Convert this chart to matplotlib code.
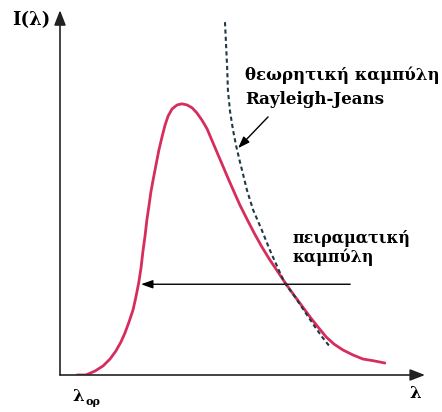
import matplotlib
matplotlib.use('Agg')
import matplotlib.pyplot as plt

# experimental curve (arbitrary units)
exp_lam = [0.47, 0.71, 0.96, 1.18, 1.37, 1.53, 1.67, 1.78, 1.89, 2.00, 2.08, 2.16, 2.22,
           2.27, 2.33, 2.38, 2.44, 2.49, 2.55, 2.63, 2.71, 2.80, 2.88, 2.96, 3.07, 3.21,
           3.34, 3.48, 3.62, 3.75, 3.89, 4.03, 4.16, 4.30, 4.44, 4.60, 4.77, 4.93, 5.12,
           5.32, 5.53, 5.75, 5.97, 6.19, 6.41, 6.63, 6.85, 7.07, 7.29, 7.51, 7.75, 8.03,
           8.30, 8.60, 8.90]
exp_I = [0.00, 0.00, 0.11, 0.25, 0.44, 0.66, 0.91, 1.16, 1.46, 1.79, 2.15, 2.56, 2.95,
         3.39, 3.83, 4.27, 4.68, 5.04, 5.37, 5.79, 6.20, 6.58, 6.89, 7.13, 7.33, 7.44,
         7.47, 7.44, 7.36, 7.22, 7.02, 6.78, 6.47, 6.14, 5.81, 5.43, 5.04, 4.68, 4.30,
         3.91, 3.53, 3.17, 2.84, 2.51, 2.20, 1.90, 1.60, 1.32, 1.05, 0.85, 0.69, 0.55,
         0.44, 0.39, 0.33]

# Rayleigh-Jeans curve
rj_lam = [4.52, 4.55, 4.58, 4.60, 4.66, 4.74, 4.82, 4.93, 5.04, 5.12, 5.29, 5.53, 5.75,
          6.03, 6.16, 6.44, 6.71, 6.99, 7.18, 7.40]
rj_I = [9.72, 9.09, 8.46, 7.85, 7.25, 6.75, 6.34, 5.87, 5.43, 5.10, 4.55, 3.99, 3.44,
        2.81, 2.53, 2.15, 1.74, 1.32, 1.05, 0.77]

theory_label = ['θεωρητική καμπύλη', 'Rayleigh-Jeans']
exp_label = ['πειραματική', 'καμπύλη']

fig = plt.figure(figsize=(4.42, 4.12), dpi=100)
ax = fig.add_axes([60/442, 37/412, 365/442, 363/412])
ax.set_xlim(0, 10)
ax.set_ylim(0, 10)
ax.axis('off')

red = '#d62d5c'
dark = '#1f3a42'
font = dict(family='DejaVu Serif', fontweight='bold', color='black')

ax.plot(exp_lam, exp_I, color=red, lw=2.0, solid_capstyle='round',
        solid_joinstyle='round', zorder=3)
ax.plot(rj_lam, rj_I, color=dark, lw=1.5, linestyle=(0, (2, 1.5)), zorder=4)

# axes with arrows
arrow = dict(arrowstyle='-|>,head_length=0.9,head_width=0.35', color='#222222', lw=1.2,
             shrinkA=0, shrinkB=0)
ax.annotate('', xy=(10.0, 0), xytext=(0, 0), arrowprops=arrow, annotation_clip=False)
ax.annotate('', xy=(0, 10.05), xytext=(0, 0), arrowprops=arrow, annotation_clip=False)

# pointer arrows
ptr = dict(arrowstyle='-|>,head_length=0.7,head_width=0.25', color='black', lw=1.0,
           shrinkA=0, shrinkB=0)
ax.annotate('', xy=(4.88, 6.25), xytext=(5.70, 7.11), arrowprops=ptr)
ax.annotate('', xy=(2.22, 2.50), xytext=(7.95, 2.50), arrowprops=ptr)

ax.text(5.07, 8.26, theory_label[0], fontsize=12, va='center', ha='left', **font)
ax.text(5.07, 7.58, theory_label[1], fontsize=12, va='center', ha='left', **font)
ax.text(6.38, 3.77, exp_label[0], fontsize=11.5, va='center', ha='left', **font)
ax.text(6.38, 3.25, exp_label[1], fontsize=11.5, va='center', ha='left', **font)

ax.text(-1.32, 9.78, 'I(λ)', fontsize=13, va='center', ha='left', clip_on=False, **font)
ax.text(9.73, -0.5, 'λ', fontsize=12, va='center', ha='center', clip_on=False, **font)
ax.text(0.33, -0.6, 'λ', fontsize=12, va='center', ha='left', clip_on=False, **font)
ax.text(0.71, -0.74, 'ορ', fontsize=8, va='center', ha='left', clip_on=False, **font)

fig.savefig('out.png', dpi=100)
